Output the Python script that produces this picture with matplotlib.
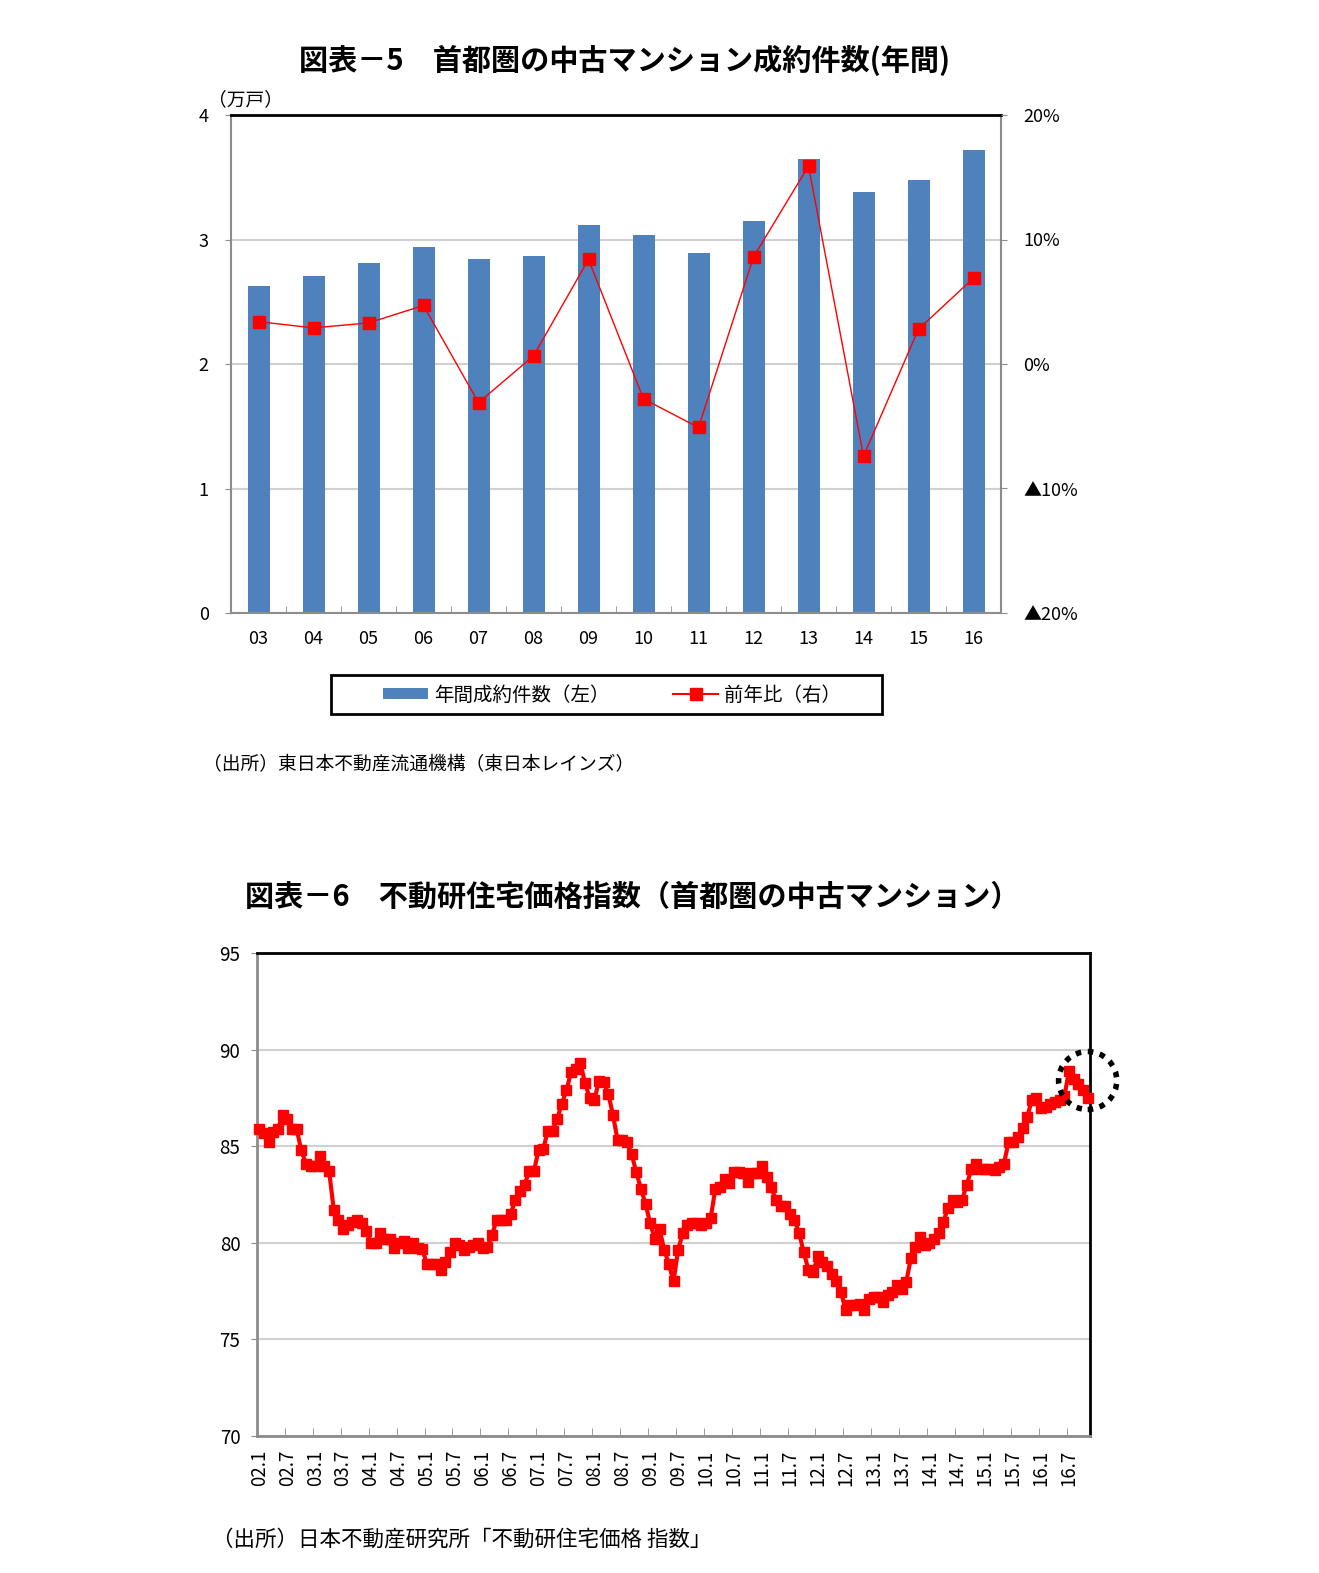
import numpy as np
import matplotlib
matplotlib.use('Agg')
import matplotlib.pyplot as plt
from matplotlib.patches import Patch, Ellipse, Rectangle
from matplotlib.lines import Line2D

plt.rcParams['font.family'] = ['Noto Sans CJK JP', 'DejaVu Sans']

# ---- chart 5 data ----
years = ['03', '04', '05', '06', '07', '08', '09', '10', '11', '12', '13', '14', '15', '16']
contracts = [2.63, 2.71, 2.81, 2.94, 2.84, 2.87, 3.12, 3.04, 2.89, 3.15, 3.65, 3.38, 3.48, 3.72]
yoy = [3.4, 2.9, 3.3, 4.7, -3.1, 0.65, 8.4, -2.8, -5.1, 8.6, 15.9, -7.4, 2.8, 6.9]
right_labels = ['▲20%', '▲10%', '0%', '10%', '20%']

# ---- chart 6 data (monthly, 2002.1 - 2016.11) ----
price_index = [
    85.9, 85.7, 85.2, 85.75, 85.9, 86.6, 86.4, 85.9, 85.9, 84.8,
    84.1, 84.0, 84.0, 84.5, 84.0, 83.7, 81.7, 81.2, 80.7, 80.9,
    81.1, 81.2, 81.0, 80.6, 80.0, 80.0, 80.5, 80.2, 80.2, 79.75,
    80.0, 80.1, 79.75, 80.0, 79.75, 79.7, 78.9, 78.9, 78.9, 78.6,
    79.0, 79.5, 80.0, 79.9, 79.65, 79.8, 79.9, 80.0, 79.75, 79.8,
    80.4, 81.2, 81.2, 81.2, 81.5, 82.2, 82.7, 83.0, 83.7, 83.7,
    84.8, 84.85, 85.8, 85.8, 86.4, 87.2, 87.9, 88.85, 89.0, 89.3,
    88.25, 87.5, 87.4, 88.4, 88.3, 87.7, 86.6, 85.3, 85.3, 85.2,
    84.6, 83.65, 82.8, 82.0, 81.0, 80.2, 80.7, 79.65, 78.9, 78.0,
    79.65, 80.5, 80.9, 81.0, 81.0, 80.9, 81.0, 81.3, 82.8, 82.9,
    83.3, 83.1, 83.65, 83.65, 83.6, 83.15, 83.6, 83.6, 84.0, 83.4,
    82.9, 82.2, 81.9, 81.9, 81.5, 81.2, 80.5, 79.5, 78.6, 78.5,
    79.3, 79.0, 78.8, 78.4, 78.0, 77.45, 76.5, 76.8, 76.8, 76.85,
    76.5, 77.1, 77.2, 77.2, 76.95, 77.3, 77.45, 77.8, 77.6, 77.95,
    79.2, 79.8, 80.3, 79.9, 80.0, 80.2, 80.5, 81.1, 81.8, 82.2,
    82.1, 82.2, 83.0, 83.8, 84.1, 83.8, 83.8, 83.8, 83.75, 83.9,
    84.1, 85.2, 85.2, 85.5, 85.95, 86.5, 87.4, 87.5, 87.0, 87.05,
    87.2, 87.3, 87.4, 87.6, 88.9, 88.5, 88.2, 87.9, 87.5,
]
month_labels = ['%02d.%d' % (y, m) for y in range(2, 17) for m in (1, 7)]

blue = '#4F81BD'
red = '#FF0000'
gray = '#8C8C8C'
grid_c = '#D0D0D0'

W, H = 1319, 1573
fig = plt.figure(figsize=(W / 100, H / 100), dpi=100)


def fx(px):
    return px / W


def fy(py):
    return 1 - py / H


# ================= chart 5 =================
fig.text(fx(625), fy(60), '図表－5　首都圏の中古マンション成約件数(年間)',
         ha='center', va='center', fontsize=21, fontweight='bold')

ax1 = fig.add_axes([fx(231), fy(613), fx(1001 - 231), (613 - 115) / H])
x = np.arange(len(years))
ax1.bar(x, contracts, width=0.4, color=blue, zorder=2)
ax1.set_xlim(-0.5, len(years) - 0.5)
ax1.set_ylim(0, 4)
ax1.set_yticks([0, 1, 2, 3, 4])
ax1.yaxis.grid(True, color=grid_c, lw=1.5, zorder=0)
ax1.set_xticks(x)
ax1.set_xticklabels(years, fontsize=13)
ax1.set_xticks(np.arange(-0.5, len(years), 1), minor=True)
ax1.tick_params(axis='x', which='major', length=0, pad=12)
ax1.tick_params(axis='x', which='minor', direction='in', length=5, color=gray)
ax1.tick_params(axis='y', which='major', length=4, color=gray, labelsize=13, pad=12)
for s in ['left', 'bottom', 'right']:
    ax1.spines[s].set_color(gray)
    ax1.spines[s].set_linewidth(1.5)
ax1.spines['top'].set_color('black')
ax1.spines['top'].set_linewidth(2)
ax1.text(-0.03, 1.01, '（万戸）', transform=ax1.transAxes, fontsize=13.5,
         ha='left', va='bottom')

ax2 = ax1.twinx()
ax2.plot(x, yoy, color=red, lw=1, marker='s', markersize=9, zorder=3)
ax2.set_ylim(-20, 20)
ax2.set_yticks([-20, -10, 0, 10, 20])
ax2.set_yticklabels(right_labels, fontsize=13)
ax2.tick_params(axis='y', length=4, color=gray, pad=12)
for s in ['left', 'bottom', 'right', 'top']:
    ax2.spines[s].set_visible(False)

# legend: entries without frame, box drawn separately
handles = [Patch(facecolor=blue, edgecolor='none'),
           Line2D([], [], color=red, lw=1.5, marker='s', markersize=9)]
fig.legend(handles, ['年間成約件数（左）', '前年比（右）'], loc='center',
           bbox_to_anchor=(fx(612), fy(695)), ncol=2, fontsize=14,
           frameon=False, handlelength=2.3, handleheight=0.45,
           columnspacing=3.3, handletextpad=0.3, borderaxespad=0)
fig.add_artist(Rectangle((fx(331), fy(714)), fx(882 - 331), (714 - 675) / H,
                         transform=fig.transFigure, fill=False,
                         edgecolor='black', lw=2))

fig.text(fx(203), fy(765), '（出所）東日本不動産流通機構（東日本レインズ）',
         ha='left', va='center', fontsize=13.5)

# ================= chart 6 =================
fig.text(fx(245), fy(897), '図表－6　不動研住宅価格指数（首都圏の中古マンション）',
         ha='left', va='center', fontsize=21, fontweight='bold')

ax3 = fig.add_axes([fx(257), fy(1436), fx(1090 - 257), (1436 - 953) / H])
m = np.arange(len(price_index))
ax3.plot(m, price_index, color=red, lw=3, marker='s', markersize=6.5,
         zorder=3, clip_on=False)
ax3.set_xlim(-0.5, len(price_index) - 0.5)
ax3.set_ylim(70, 95)
ax3.set_yticks([70, 75, 80, 85, 90, 95])
ax3.yaxis.grid(True, color=grid_c, lw=1.5, zorder=0)
ax3.set_xticks(np.arange(0, len(price_index), 6))
ax3.set_xticklabels(month_labels, rotation=90, fontsize=13.5)
ax3.set_xticks(np.arange(-0.5, len(price_index), 6), minor=True)
ax3.tick_params(axis='x', which='major', length=0, pad=10)
ax3.tick_params(axis='x', which='minor', direction='in', length=6, color=gray)
ax3.tick_params(axis='y', length=4, color=gray, labelsize=13.5, pad=8)
for s in ['left', 'bottom']:
    ax3.spines[s].set_color(gray)
    ax3.spines[s].set_linewidth(2)
for s in ['top', 'right']:
    ax3.spines[s].set_color('black')
    ax3.spines[s].set_linewidth(2)

circle = Ellipse((len(price_index) - 1.0, 88.4), width=12.5, height=3.0,
                 fill=False, edgecolor='black', lw=4, linestyle=(0, (1, 1.2)),
                 clip_on=False, zorder=4)
ax3.add_patch(circle)

fig.text(fx(212), fy(1540), '（出所）日本不動産研究所「不動研住宅価格 指数」',
         ha='left', va='center', fontsize=15.5)

fig.savefig('out.png', dpi=100, facecolor='white')
